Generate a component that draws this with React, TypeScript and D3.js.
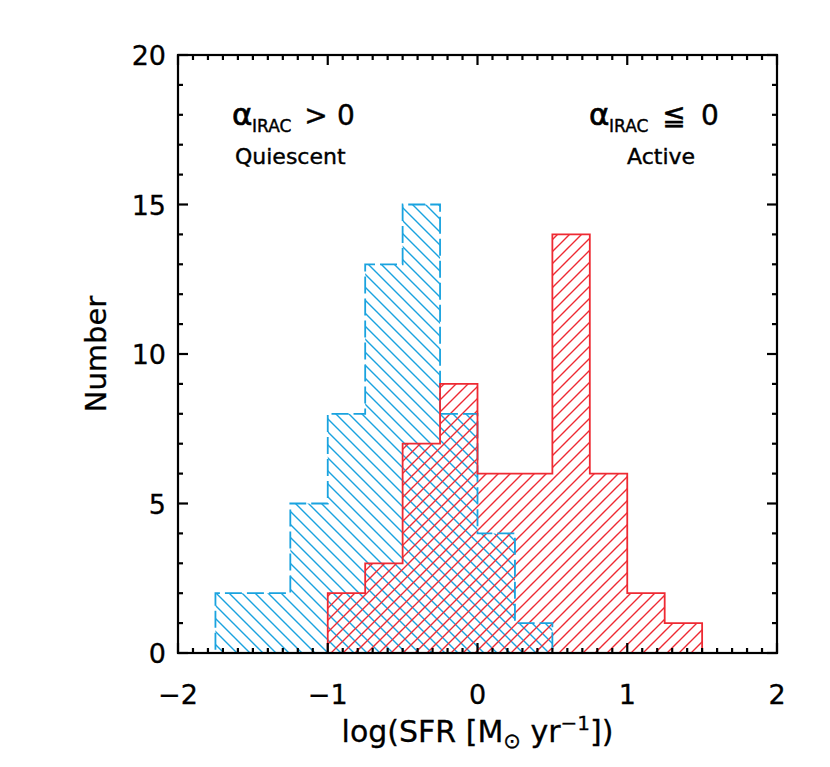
import React, { useEffect, useRef } from "react";
import * as d3 from "d3";

// histogram bins (lower edges) and counts, bin width 0.25 dex
const binWidth = 0.25;
const quiescentBins = [-1.75, -1.5, -1.25, -1.0, -0.75, -0.5, -0.25, 0.0, 0.25];
const quiescentCounts = [2, 2, 5, 8, 13, 15, 8, 4, 1];
const activeBins = [-1.0, -0.75, -0.5, -0.25, 0.0, 0.25, 0.5, 0.75, 1.0, 1.25];
const activeCounts = [2, 3, 7, 9, 6, 6, 14, 6, 2, 1];

const xMajorTicks = [-2, -1, 0, 1, 2];
const yMajorTicks = [0, 5, 10, 15, 20];

const BLUE = "#1aa3df";
const RED = "#ee2a33";
const FONT = "'DejaVu Sans', sans-serif";

const App = () => {
  const ref = useRef<SVGSVGElement>(null);

  useEffect(() => {
    draw();
  });

  const draw = () => {
    const svg = d3.select(ref.current);
    svg.selectAll("*").remove();

    const width = 830;
    const height = 767;
    const left = 178;
    const right = 777;
    const top = 55;
    const bottom = 653;

    const x = d3.scaleLinear().domain([-2, 2]).range([left, right]);
    const y = d3.scaleLinear().domain([0, 20]).range([bottom, top]);

    svg.attr("width", width).attr("height", height);

    const defs = svg.append("defs");
    // "\" hatch for quiescent
    const sb = 13;
    defs
      .append("pattern")
      .attr("id", "hatchBlue")
      .attr("patternUnits", "userSpaceOnUse")
      .attr("width", sb)
      .attr("height", sb)
      .append("path")
      .attr("d", `M0,0L${sb},${sb}M-2,${sb - 2}L2,${sb + 2}M${sb - 2},-2L${sb + 2},2`)
      .attr("stroke", BLUE)
      .attr("stroke-width", 1.4);
    // "/" hatch for active
    const sr = 12;
    defs
      .append("pattern")
      .attr("id", "hatchRed")
      .attr("patternUnits", "userSpaceOnUse")
      .attr("width", sr)
      .attr("height", sr)
      .append("path")
      .attr("d", `M0,${sr}L${sr},0M-2,2L2,-2M${sr - 2},${sr + 2}L${sr + 2},${sr - 2}`)
      .attr("stroke", RED)
      .attr("stroke-width", 1.4);

    const stepPoints = (bins: number[], counts: number[]) => {
      const pts: [number, number][] = [];
      pts.push([bins[0] - binWidth / 2, 0]);
      pts.push([bins[0], 0]);
      bins.forEach((b, i) => {
        pts.push([b, counts[i]]);
        pts.push([b + binWidth, counts[i]]);
      });
      const last = bins[bins.length - 1] + binWidth;
      pts.push([last, 0]);
      pts.push([last + binWidth / 2, 0]);
      return pts;
    };

    const line = d3
      .line<[number, number]>()
      .x((d) => x(d[0]))
      .y((d) => y(d[1]));

    const qPts = stepPoints(quiescentBins, quiescentCounts);
    const aPts = stepPoints(activeBins, activeCounts);

    svg.append("path").attr("d", line(qPts) + "Z").attr("fill", "url(#hatchBlue)");
    svg.append("path").attr("d", line(aPts) + "Z").attr("fill", "url(#hatchRed)");

    svg
      .append("path")
      .attr("d", line(qPts))
      .attr("fill", "none")
      .attr("stroke", BLUE)
      .attr("stroke-width", 1.8)
      .attr("stroke-dasharray", "17,5");
    svg
      .append("path")
      .attr("d", line(aPts))
      .attr("fill", "none")
      .attr("stroke", RED)
      .attr("stroke-width", 1.8);

    // frame
    const ax = svg.append("g").attr("stroke", "#000").attr("stroke-width", 2.2);
    ax.append("rect")
      .attr("x", left)
      .attr("y", top)
      .attr("width", right - left)
      .attr("height", bottom - top)
      .attr("fill", "none");

    const xMinor = d3.range(-20, 21).map((d) => d / 10);
    xMinor.forEach((t) => {
      const major = xMajorTicks.includes(t);
      const len = major ? 10 : 5;
      ax.append("line").attr("x1", x(t)).attr("x2", x(t)).attr("y1", bottom).attr("y2", bottom - len);
      ax.append("line").attr("x1", x(t)).attr("x2", x(t)).attr("y1", top).attr("y2", top + len);
    });
    const yMinor = d3.range(0, 21);
    yMinor.forEach((t) => {
      const major = yMajorTicks.includes(t);
      const len = major ? 10 : 5;
      ax.append("line").attr("x1", left).attr("x2", left + len).attr("y1", y(t)).attr("y2", y(t));
      ax.append("line").attr("x1", right).attr("x2", right - len).attr("y1", y(t)).attr("y2", y(t));
    });

    const txt = (sel: d3.Selection<any, any, any, any>, size: number, sw = 0.3) =>
      sel
        .style("font-family", FONT)
        .style("font-size", size + "px")
        .attr("fill", "#000")
        .attr("stroke", "#000")
        .attr("stroke-width", sw);

    xMajorTicks.forEach((t) => {
      txt(svg.append("text"), 27)
        .attr("x", x(t))
        .attr("y", 704)
        .attr("text-anchor", "middle")
        .text(t < 0 ? "\u2212" + Math.abs(t) : String(t));
    });
    yMajorTicks.forEach((t) => {
      txt(svg.append("text"), 27)
        .attr("x", 166)
        .attr("y", y(t) + 10)
        .attr("text-anchor", "end")
        .text(String(t));
    });

    // axis titles
    txt(svg.append("text"), 29)
      .attr("transform", `translate(106,${(top + bottom) / 2}) rotate(-90)`)
      .attr("text-anchor", "middle")
      .text("Number");

    const xt = txt(svg.append("text"), 30)
      .attr("x", (left + right) / 2)
      .attr("y", 742)
      .attr("text-anchor", "middle");
    xt.append("tspan").text("log(SFR [M");
    xt.append("tspan").attr("dy", 6).style("font-size", "21px").text("\u2299");
    xt.append("tspan").attr("dy", -6).text(" yr");
    xt.append("tspan").attr("dy", -12).style("font-size", "20px").text("\u22121");
    xt.append("tspan").attr("dy", 12).text("])");

    // annotations
    const note = (xPos: number, rel: string, relX: number, zeroX: number, sub: string, subX: number) => {
      txt(svg.append("text"), 31, 0.7).attr("x", xPos).attr("y", 125).text("\u03b1");
      txt(svg.append("text"), 17, 0.4).attr("x", xPos + 20).attr("y", 132).text("IRAC");
      txt(svg.append("text"), 28, 0.4)
        .attr("x", relX)
        .attr("y", 125)
        .attr("text-anchor", "middle")
        .text(rel);
      txt(svg.append("text"), 28, 0.4)
        .attr("x", zeroX)
        .attr("y", 125)
        .attr("text-anchor", "middle")
        .text("0");
      txt(svg.append("text"), 22, 0.4).attr("x", subX).attr("y", 164).text(sub);
    };
    note(232, ">", 316, 346, "Quiescent", 235);
    note(589, "\u2266", 674, 710, "Active", 627);
  };

  return (
    <svg ref={ref} style={{ position: "absolute", left: 0, top: 0, display: "block" }} />
  );
};

export default App;
